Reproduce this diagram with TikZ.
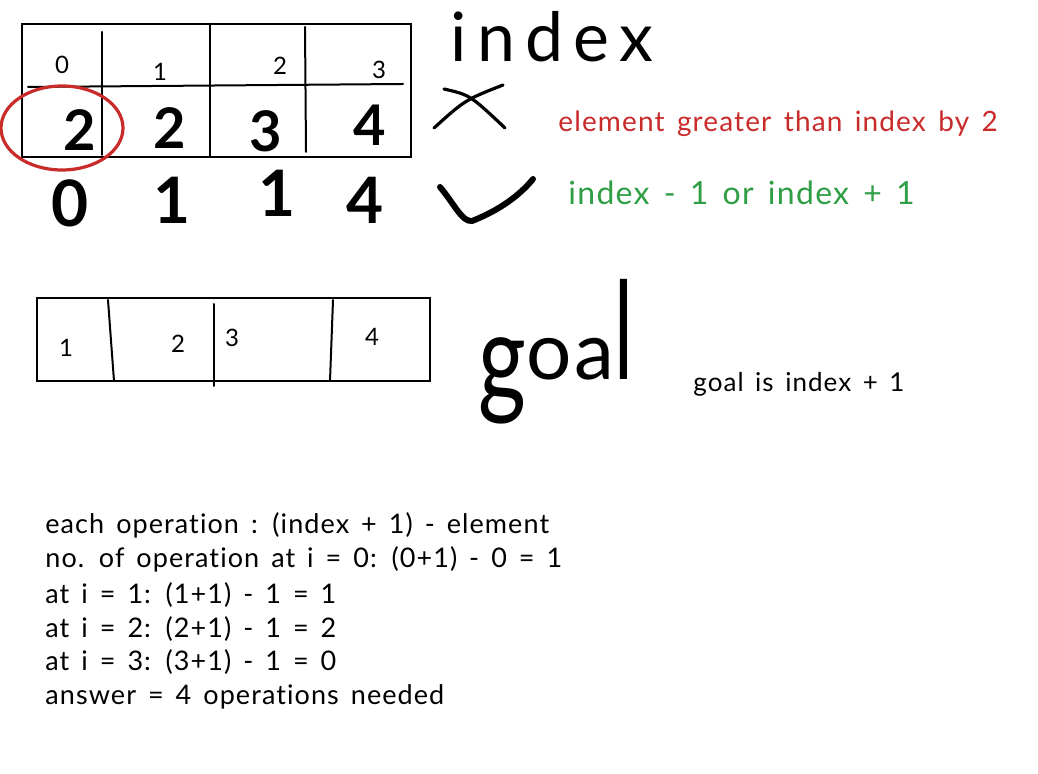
\documentclass[tikz,border=0pt]{standalone}
\usepackage{fontspec}
\setmainfont{Lato}[LetterSpace=4, WordSpace=1.5, Ligatures=NoCommon]
\definecolor{sketchred}{HTML}{C92A2A}
\definecolor{sketchgreen}{HTML}{2F9E44}
\def\topbox{(22,24) rectangle (411,157)}
\def\goalbox{(37,298) rectangle (430,381)}
\def\redcircle{(62,128) ellipse (61 and 42)}
\tikzset{
  sketch/.style={line width=1pt, line cap=round},
  pen/.style={line width=1.6pt, line cap=round, line join=round},
  small/.style={font=\fontsize{12}{14}\selectfont},
  digit/.style={font=\fontsize{28}{30}\selectfont\bfseries},
  bigdigit/.style={font=\fontsize{32}{34}\selectfont\bfseries},
  note/.style={font=\fontsize{13.5}{16}\selectfont, anchor=west, inner sep=0pt},
}

\begin{document}
\begin{tikzpicture}[x=0.5pt, y=-0.5pt]
  \useasboundingbox (0,0) rectangle (1038,774);
  \draw[sketch] \topbox;
  \draw[sketch] (28,87) -- (403,84);
  \draw[sketch] (102,32) -- (102,155);
  \draw[sketch] (210,24) -- (210,157);
  \draw[sketch] (305,27) -- (306,152);
  \foreach \i/\x/\y in {0/62/65, 1/160/72, 2/280/66, 3/379/70}
    \node[small] (idx\i) at (\x,\y) {\i};
  \foreach \n/\v/\x/\y in {a/2/80/130, b/2/170/128, c/3/266/131, d/4/370/125}
    \node[digit] (val\n) at (\x,\y) {\v};
  \draw[sketchred, line width=1.6pt] \redcircle;
  \foreach \n/\v/\x/\y in {a/0/70/203, b/1/172/200, c/1/277/193, d/4/365/200}
    \node[bigdigit] (cost\n) at (\x,\y) {\v};
  \node[font=\fontsize{34}{36}\selectfont\addfontfeature{LetterSpace=15}, anchor=base] (index) at (552,62) {index};
  \draw[pen] (434,128) .. controls (465,100) .. (503,85);
  \draw[pen] (444,89) .. controls (470,95) .. (505,128);
  \draw[pen, line width=3pt]
    (440,187) .. controls (455,205) and (462,222) .. (472,221) .. controls (500,210) and (520,195) .. (533,179);
  \node[note, sketchred, font=\fontsize{14}{16}\selectfont] (rule) at (558,124) {element greater than index by 2};
  \node[note, sketchgreen, font=\fontsize{16}{18}\selectfont] (fix) at (568,193) {index - 1 or index + 1};
  \draw[sketch] \goalbox;
  \draw[sketch] (108,300) -- (114,381);
  \draw[sketch] (214,304) -- (214,386);
  \draw[sketch] (333,300) -- (330,381);
  \foreach \i/\x/\y in {1/66/348, 2/178/344, 3/232/338, 4/372/337}
    \node[small] (goal\i) at (\x,\y) {\i};
  \node[font=\fontsize{40}{40}\selectfont, anchor=base west, inner sep=0pt] (goal) at (478,380)
    {\raisebox{-11pt}{\scalebox{1.15}[1.55]{g}}oa\scalebox{1}[1.7]{l}};
  \node[note, font=\fontsize{13}{15}\selectfont] (goalnote) at (693,384) {goal is index + 1};
  \node[note] (line1) at (45,525) {each operation : (index + 1) - element};
  \node[note] (line2) at (45,559) {no. of operation at i = 0: (0+1) - 0 = 1};
  \node[note] (line3) at (45,595) {at i = 1: (1+1) - 1 = 1};
  \node[note] (line4) at (45,629) {at i = 2: (2+1) - 1 = 2};
  \node[note] (line5) at (45,662) {at i = 3: (3+1) - 1 = 0};
  \node[note] (line6) at (45,697) {answer = 4 operations needed};
\end{tikzpicture}
\end{document}
